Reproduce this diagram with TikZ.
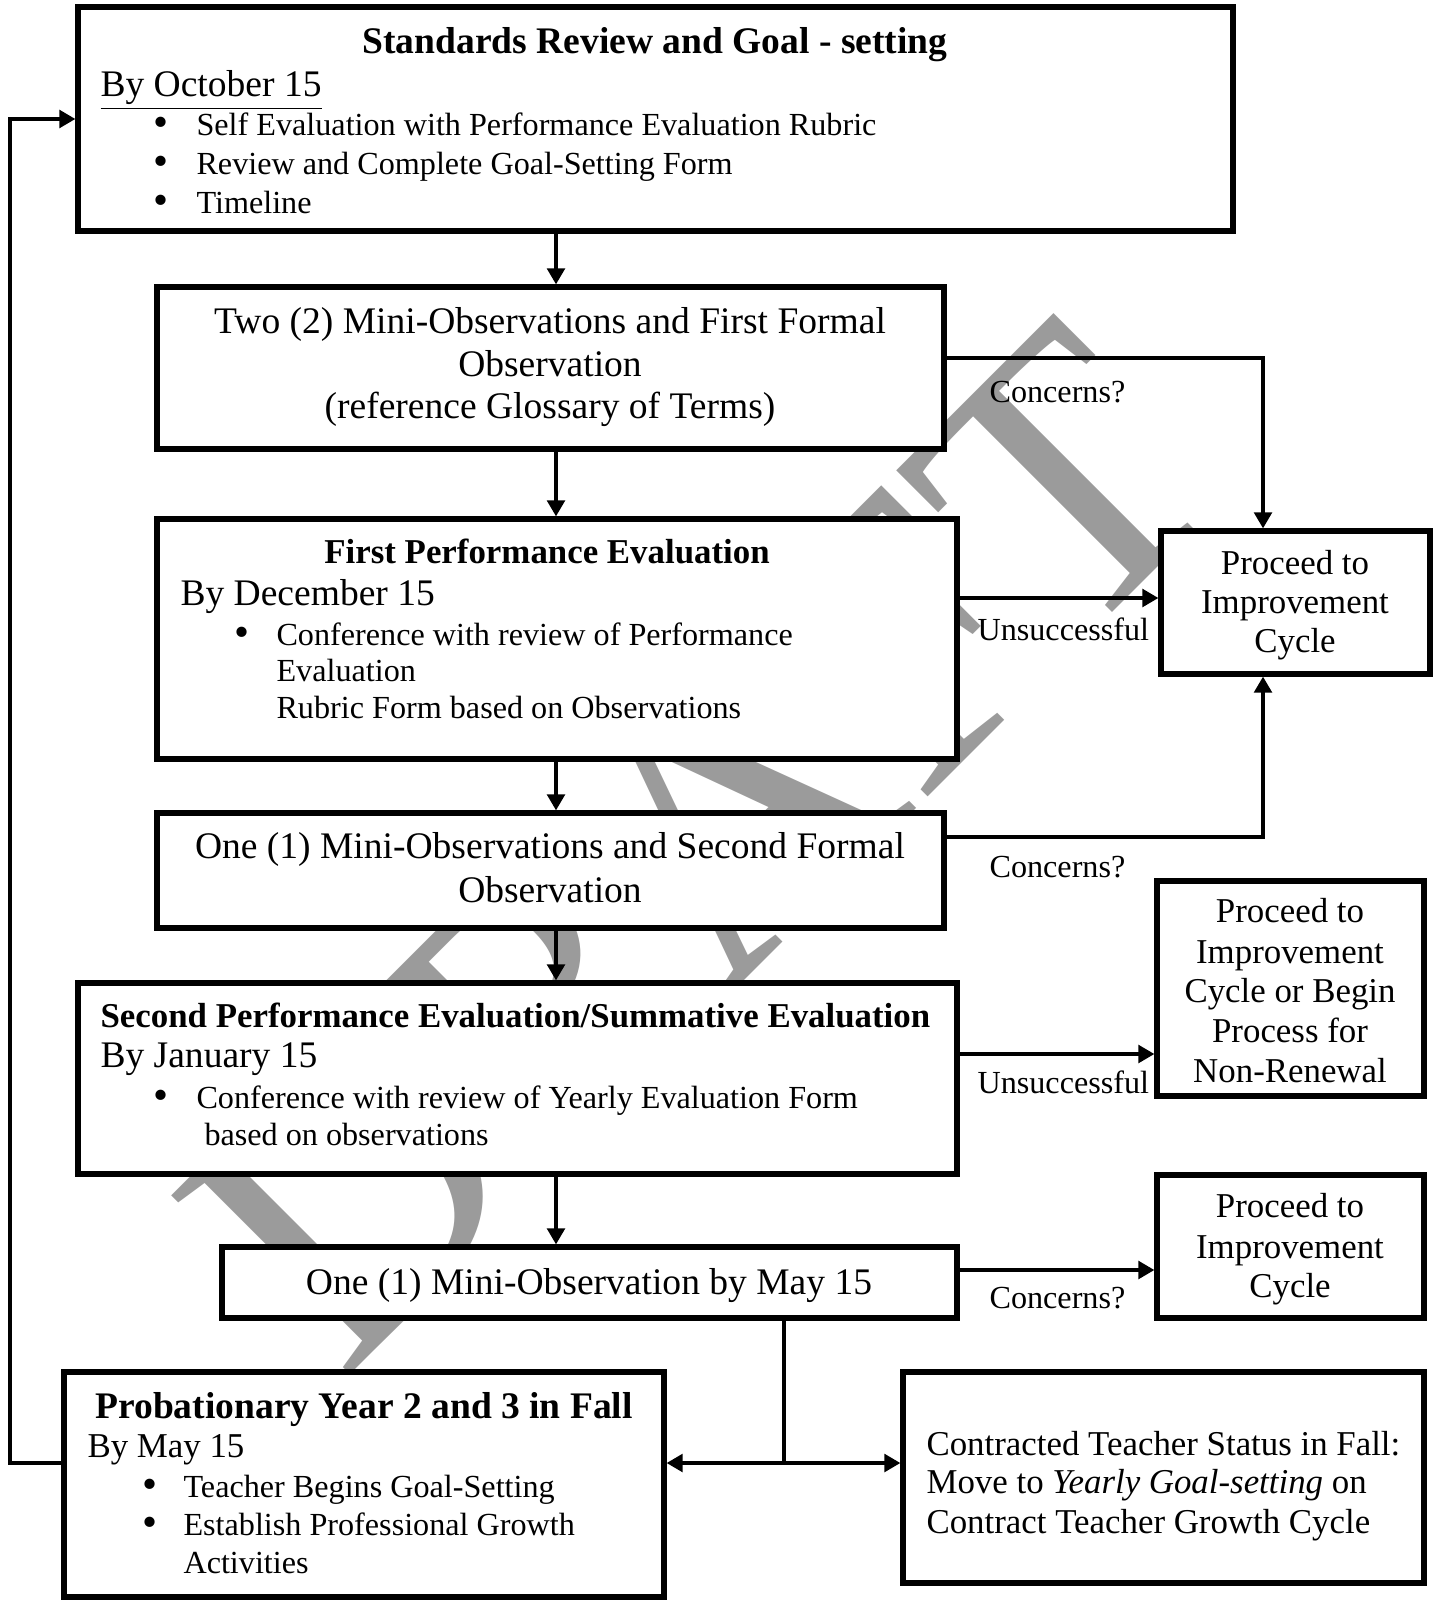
\documentclass[tikz,border=0pt]{standalone}
\usepackage{fontspec}
\setmainfont{Liberation Serif}
\definecolor{MarkGray}{RGB}{155,155,155}
\usetikzlibrary{arrows.meta, positioning, fit}

\begin{document}
\begin{tikzpicture}[x=0.373pt, y=-0.373pt,
    box/.style={draw, line width=1.9pt, fill=white, inner sep=0pt},
    link/.style={line width=1.6pt},
    arr/.style={link, -{Triangle[length=6pt, width=6.5pt]}},
    txt/.style={inner sep=0pt, anchor=base west, font=\fontsize{14}{16}\selectfont},
    ctxt/.style={txt, anchor=base},
    bul/.style={txt, font=\fontsize{16}{16}\selectfont},
    fA/.style={font=\fontsize{12}{14}\selectfont},
    fB/.style={font=\fontsize{13}{15}\selectfont},
    hd/.style={font=\fontsize{14}{16}\selectfont\bfseries},
    hdB/.style={font=\fontsize{13}{15}\selectfont\bfseries}]
    \useasboundingbox (0,0) rectangle (1439,1600);

    % Watermark
    \node[rotate=45, text=MarkGray, inner sep=0pt, anchor=base,
          font=\fontsize{144}{144}\selectfont] (mark) at (790,935) {DRAFT};

    % Boxes
    \node[box, fit={(78,7) (1233,231)}] (goal) {};
    \node[box, fit={(157,287) (944,449)}] (mini2) {};
    \node[box, fit={(157,519) (957,759)}] (eval1) {};
    \node[box, fit={(157,813) (944,928)}] (mini1) {};
    \node[box, fit={(78,983) (957,1174)}] (eval2) {};
    \node[box, fit={(222,1247) (957,1318)}] (may) {};
    \node[box, fit={(64,1372) (664,1597)}] (prob) {};
    \node[box, fit={(903,1372) (1424,1583)}] (contract) {};
    \node[box, fit={(1161,531) (1430,674)}] (procA) {};
    \node[box, fit={(1157,881) (1424,1096)}] (procB) {};
    \node[box, fit={(1157,1175) (1424,1318)}] (procC) {};

    % Standards review
    \node[ctxt, hd] (goalT) at (655,54) {Standards Review and Goal - setting};
    \node[txt] (goalD) at (100,97) {\underline{By October 15}};
    \node[bul] (goalB1) at (153,137) {•};
    \node[txt, fA] (goalL1) at (196,136) {Self Evaluation with Performance Evaluation Rubric};
    \node[bul] (goalB2) at (153,176) {•};
    \node[txt, fA] (goalL2) at (196,175) {Review and Complete Goal-Setting Form};
    \node[bul] (goalB3) at (153,215) {•};
    \node[txt, fA] (goalL3) at (196,214) {Timeline};

    % First observations
    \node[ctxt] (mini2L1) at (550,333) {Two (2) Mini-Observations and First Formal};
    \node[ctxt] (mini2L2) at (550,376) {Observation};
    \node[ctxt] (mini2L3) at (550,418) {(reference Glossary of Terms)};

    % First evaluation
    \node[ctxt, hdB] (eval1T) at (547,563) {First Performance Evaluation};
    \node[txt] (eval1D) at (180,605) {By December 15};
    \node[bul] (eval1B) at (234,646) {•};
    \node[txt, fA] (eval1L1) at (276,645) {Conference with review of Performance};
    \node[txt, fA] (eval1L2) at (276,681) {Evaluation};
    \node[txt, fA] (eval1L3) at (276,718) {Rubric Form based on Observations};

    % Second observations
    \node[ctxt] (mini1L1) at (550,858) {One (1) Mini-Observations and Second Formal};
    \node[ctxt] (mini1L2) at (550,902) {Observation};

    % Second evaluation
    \node[txt, hdB] (eval2T) at (100,1027) {Second Performance Evaluation/Summative Evaluation};
    \node[txt] (eval2D) at (100,1067) {By January 15};
    \node[bul] (eval2B) at (153,1109) {•};
    \node[txt, fA] (eval2L1) at (196,1108) {Conference with review of Yearly Evaluation Form};
    \node[txt, fA] (eval2L2) at (204,1145) {based on observations};

    % May observation
    \node[ctxt] (mayL) at (589,1294) {One (1) Mini-Observation by May 15};

    % Probationary year
    \node[ctxt, hd] (probT) at (364,1418) {Probationary Year 2 and 3 in Fall};
    \node[txt, fB] (probD) at (87,1457) {By May 15};
    \node[bul] (probB1) at (142,1498) {•};
    \node[txt, fA] (probL1) at (183,1497) {Teacher Begins Goal-Setting};
    \node[bul] (probB2) at (142,1536) {•};
    \node[txt, fA] (probL2) at (183,1535) {Establish Professional Growth};
    \node[txt, fA] (probL3) at (183,1573) {Activities};

    % Contracted status
    \node[txt, fB] (contL1) at (926,1455) {Contracted Teacher Status in Fall:};
    \node[txt, fB] (contL2) at (926,1493) {Move to \textit{Yearly Goal-setting} on};
    \node[txt, fB] (contL3) at (926,1533) {Contract Teacher Growth Cycle};

    % Improvement boxes
    \node[ctxt, fB] (procAL1) at (1295,574) {Proceed to};
    \node[ctxt, fB] (procAL2) at (1295,613) {Improvement};
    \node[ctxt, fB] (procAL3) at (1295,652) {Cycle};
    \node[ctxt, fB] (procBL1) at (1290,922) {Proceed to};
    \node[ctxt, fB] (procBL2) at (1290,963) {Improvement};
    \node[ctxt, fB] (procBL3) at (1290,1002) {Cycle or Begin};
    \node[ctxt, fB] (procBL4) at (1290,1042) {Process for};
    \node[ctxt, fB] (procBL5) at (1290,1082) {Non-Renewal};
    \node[ctxt, fB] (procCL1) at (1290,1217) {Proceed to};
    \node[ctxt, fB] (procCL2) at (1290,1258) {Improvement};
    \node[ctxt, fB] (procCL3) at (1290,1297) {Cycle};

    % Branch labels
    \node[txt, fA] (concA) at (989,402) {Concerns?};
    \node[txt, fA] (unsA) at (977,640) {Unsuccessful};
    \node[txt, fA] (concB) at (989,877) {Concerns?};
    \node[txt, fA] (unsB) at (977,1093) {Unsuccessful};
    \node[txt, fA] (concC) at (989,1308) {Concerns?};

    % Main spine
    \coordinate (spine) at (556,0);
    \draw[arr] (goal.south -| spine) -- (mini2.north -| spine);
    \draw[arr] (mini2.south -| spine) -- (eval1.north -| spine);
    \draw[arr] (eval1.south -| spine) -- (mini1.north -| spine);
    \draw[arr] (mini1.south -| spine) -- (eval2.north -| spine);
    \draw[arr] (eval2.south -| spine) -- (may.north -| spine);

    % Side branches
    \coordinate (rail) at (1263,0);
    \coordinate (cA) at (0,358);
    \coordinate (cB) at (0,837);
    \coordinate (uA) at (0,598);
    \coordinate (uB) at (0,1054);
    \coordinate (cC) at (0,1270);
    \draw[arr] (mini2.east |- cA) -| (procA.north -| rail);
    \draw[arr] (mini1.east |- cB) -| (procA.south -| rail);
    \draw[arr] (eval1.east |- uA) -- (procA.west |- uA);
    \draw[arr] (eval2.east |- uB) -- (procB.west |- uB);
    \draw[arr] (may.east |- cC) -- (procC.west |- cC);

    % Fork and loop back
    \coordinate (fork) at (784,1463);
    \coordinate (loopx) at (10,0);
    \coordinate (loopy) at (0,119);
    \draw[link] (may.south -| fork) -- (fork);
    \draw[arr] (fork) -- (prob.east |- fork);
    \draw[arr] (fork) -- (contract.west |- fork);
    \draw[arr] (prob.west |- fork) -- (loopx |- fork) -- (loopx |- loopy) -- (goal.west |- loopy);
\end{tikzpicture}
\end{document}
